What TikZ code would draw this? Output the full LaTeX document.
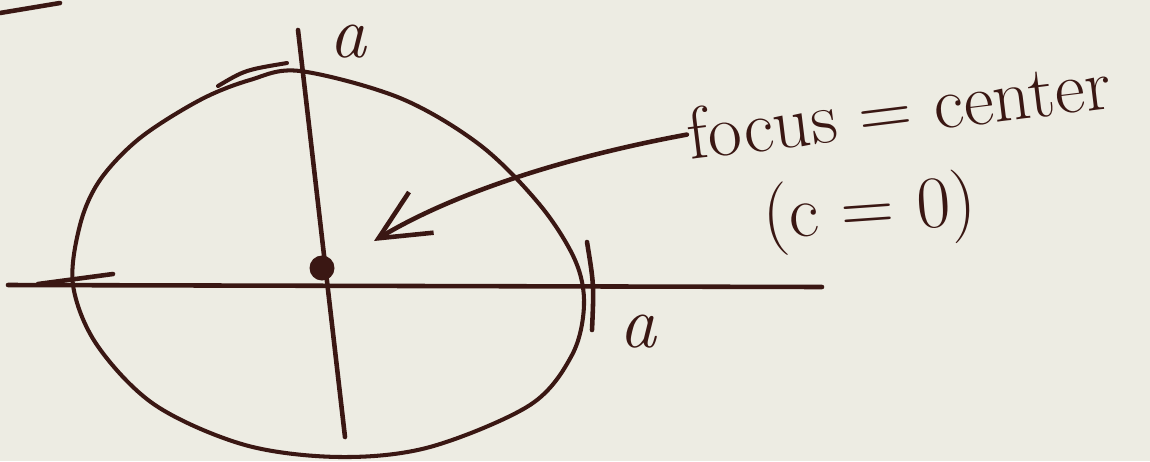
\documentclass[tikz,border=0pt]{standalone}
\usepackage{tikz}
\usetikzlibrary{arrows.meta,positioning,calc}
\definecolor{InkBrown}{HTML}{3A1713}
\definecolor{PaperTone}{HTML}{EDECE3}

\begin{document}
\begin{tikzpicture}[x=0.02cm,y=-0.02cm,
    pen/.style={InkBrown,line width=2.6pt,line cap=round,line join=round},
    hand/.style={InkBrown,font=\fontsize{42}{48}\selectfont,inner sep=0pt}]
  \fill[PaperTone] (0,0) rectangle (1150,461);
  \useasboundingbox (0,0) rectangle (1150,461);
  % stray stroke in the corner
  \draw[pen] (0,13) -- (60,3);
  % axes
  \draw[pen] (8,285) -- (822,287);
  \draw[pen] (298,30) -- (345,437);
  % the circle, drawn by hand
  \draw[pen,line width=2.3pt] plot[smooth cycle,tension=0.55] coordinates {
    (300,71) (400,98) (480,145) (540,205) (575,260) (584,305) (572,355)
    (530,405) (430,447) (340,457) (245,445) (155,405) (97,345) (73,285)
    (80,225) (100,180) (140,138) (200,100) (250,80)};
  \draw[pen,line width=2.3pt] (218,86) .. controls (245,70) .. (287,63);
  % ticks where the radius meets the circle
  \draw[pen] (38,284) -- (113,274);
  \draw[pen] (587,242) .. controls (594,285) .. (592,330);
  \node[circle,fill=InkBrown,minimum size=0.5cm,inner sep=0pt] (ctr) at (322,268) {};
  \node[hand] (atop) at (348,42) {\itshape a};
  \node[hand] (aright) at (638,332) {\itshape a};
  \node[hand,rotate=7,anchor=base west] (focus) at (690,160) {focus = center};
  \node[hand,rotate=4] (czero) at (870,213) {(c = 0)};
  \coordinate (tip) at (374,241);
  \draw[pen,-{Straight Barb[length=1cm,width=0.95cm]}] (focus.west) .. controls (560,158) and (450,195) .. (tip);
\end{tikzpicture}
\end{document}
